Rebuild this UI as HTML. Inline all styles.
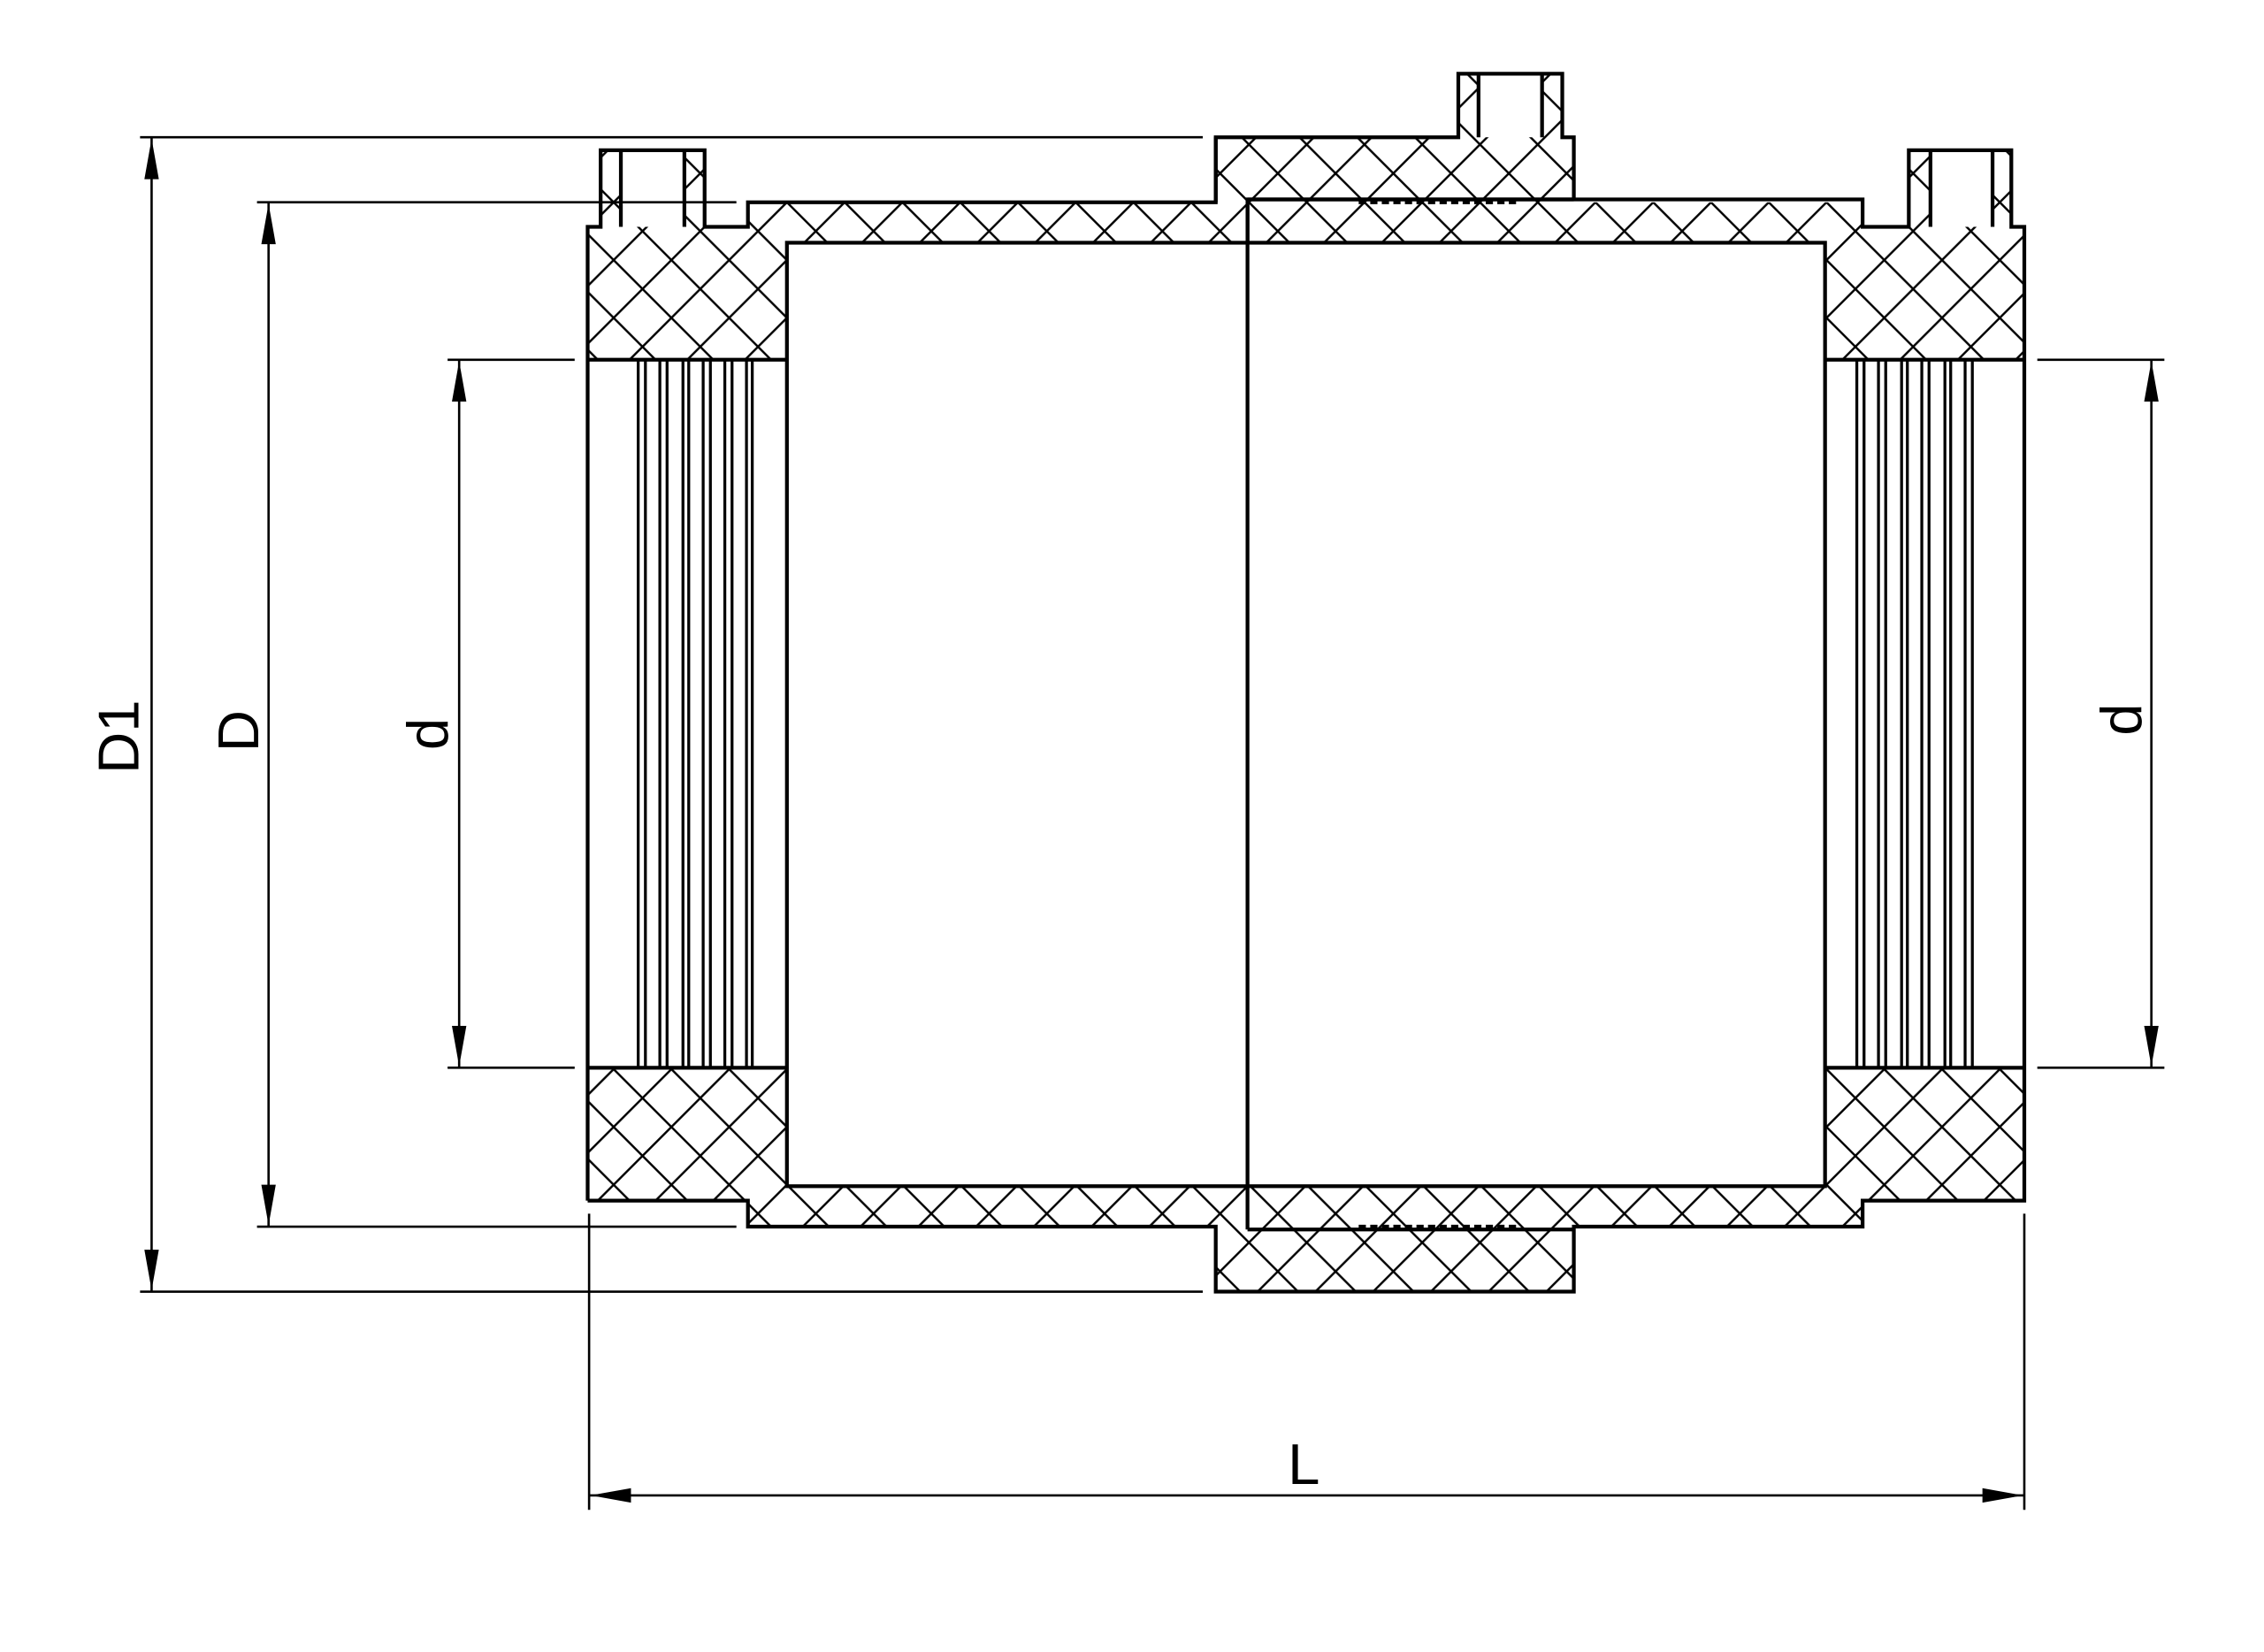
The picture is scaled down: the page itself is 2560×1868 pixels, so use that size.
<!DOCTYPE html>
<html><head><meta charset="utf-8"><style>html,body{margin:0;padding:0;background:#fff}svg{display:block}</style></head>
<body>
<svg width="2560" height="1868" viewBox="0 0 1568 1143.4" preserveAspectRatio="none" xmlns="http://www.w3.org/2000/svg">
<defs>
<pattern id="h" width="40" height="40" patternUnits="userSpaceOnUse" x="5" y="0">
<path d="M0 0L40 40M40 0L0 40M-10 30L10 50M30 -10L50 10M-10 10L10 -10M30 50L50 30" stroke="#000" stroke-width="1.5"/>
</pattern>
</defs>
<rect width="1568" height="1143.4" fill="#fff"/>
<path fill="url(#h)" d="M407 157H416V104H488V157H518V140H842V95H1010V51H1082V95H1090V140H1290V157H1322V104H1393V157H1402V831H1290V849H1090V894H842V849H518V831H407Z"/>
<g fill="#fff">
<rect x="430" y="104" width="44" height="53"/>
<rect x="1024" y="51" width="44" height="44"/>
<rect x="1337" y="104" width="43" height="53"/>
<rect x="545" y="168" width="719" height="653"/>
<rect x="408" y="249" width="137" height="490"/>
<rect x="1264" y="249" width="138" height="490"/>
</g>
<g fill="none" stroke="#000" stroke-width="2.6" stroke-linejoin="miter">
<path d="M407 831V157H416V104H488V157H518V140H842V95H1010V51H1082V95H1090V138"/>
<path d="M842 95V140"/>
<path d="M864 168V138H1090"/>
<path d="M864 138H1290V157H1322V104H1393V157H1402V831H1290V849H1090V894H842V849H518V831H407"/>
<path d="M864 851H1090"/>
<path d="M430 104V157M474 104V157M1024 51V95M1068 51V95M1337 104V157M1380 104V157"/>
<rect x="545" y="168" width="719" height="653"/>
<path d="M864 138V851"/>
<path d="M407 249H545M407 739H545M1264 249H1402M1264 739H1402"/>
<path d="M941 140H1052M941 849H1052" stroke-dasharray="5 3"/>
</g>
<g stroke="#000" stroke-width="2">
<path d="M442 249V739M447 249V739M457 249V739M462 249V739M473 249V739M477 249V739M487 249V739M492 249V739M502 249V739M507 249V739M517 249V739M521 249V739"/>
<path d="M1286 249V739M1291 249V739M1301 249V739M1306 249V739M1317 249V739M1321 249V739M1331 249V739M1336 249V739M1347 249V739M1351 249V739M1361 249V739M1366 249V739"/>
</g>
<g stroke="#000" stroke-width="1.6" fill="none">
<path d="M97 95H833M97 894H833"/>
<path d="M178 140H510M178 849H510"/>
<path d="M310 249H398M310 739H398M1411 249H1499M1411 739H1499"/>
<path d="M105 95V894M186 140V849M318 249V739M1490 249V739"/>
<path d="M408 840V1045M1402 840V1045M408 1035H1402"/>
</g>
<g fill="#000">
<path d="M105 96L110 124H100Z M105 893L110 865H100Z"/>
<path d="M186 141L191 169H181Z M186 848L191 820H181Z"/>
<path d="M318 250L323 278H313Z M318 738L323 710H313Z"/>
<path d="M1490 250L1495 278H1485Z M1490 738L1495 710H1485Z"/>
<path d="M409 1035L437 1030V1040Z M1401 1035L1373 1030V1040Z"/>
</g>
<g font-family="Liberation Sans, sans-serif" font-size="40" fill="#000" text-anchor="middle">
<text transform="translate(96 510) rotate(-90)">D1</text>
<text transform="translate(179 506) rotate(-90)">D</text>
<text transform="translate(310 508) rotate(-90)">d</text>
<text transform="translate(1483 498) rotate(-90)">d</text>
<text x="903" y="1027">L</text>
</g>
</svg>
</body></html>
